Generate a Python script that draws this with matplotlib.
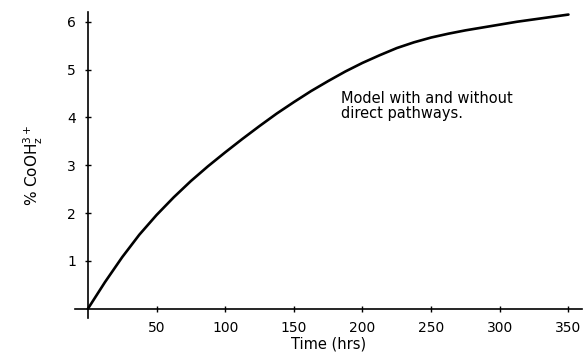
import matplotlib
matplotlib.use("Agg")
import matplotlib.pyplot as plt

plt.rcParams['font.family'] = ['DejaVu Sans']
plt.rcParams['mathtext.fontset'] = 'dejavusans'

# values
time_hrs = [0, 12.5, 25, 37.5, 50, 62.5, 75, 87.5, 100, 112.5, 125, 137.5, 150,
            162.5, 175, 187.5, 200, 212.5, 225, 237.5, 250, 262.5, 275, 287.5,
            300, 312.5, 325, 337.5, 350]
pct_cooh = [0, 0.56, 1.08, 1.55, 1.96, 2.33, 2.67, 2.98, 3.27, 3.55, 3.82, 4.08, 4.32,
            4.55, 4.76, 4.96, 5.14, 5.30, 5.45, 5.57, 5.67, 5.75, 5.82, 5.88,
            5.94, 6.00, 6.05, 6.10, 6.15]

x_ticks = [50, 100, 150, 200, 250, 300, 350]
y_ticks = [1, 2, 3, 4, 5, 6]

fig = plt.figure(figsize=(5.83, 3.58), dpi=100)
ax = fig.add_axes([0.1286, 0.112, 0.87, 0.854])

ax.plot(time_hrs, pct_cooh, color='black', lw=1.9, solid_capstyle='round')

ax.set_xlim(-9.4, 360)
ax.set_ylim(-0.19, 6.2)
ax.spines['left'].set_position(('data', 0))
ax.spines['bottom'].set_position(('data', 0))
ax.spines['top'].set_visible(False)
ax.spines['right'].set_visible(False)
ax.spines['left'].set_linewidth(1.2)
ax.spines['bottom'].set_linewidth(1.2)

ax.set_xticks(x_ticks)
ax.set_yticks(y_ticks)
ax.tick_params(direction='inout', length=5, width=1, labelsize=10, pad=6)

ax.set_xlabel('Time (hrs)', fontsize=10.5, labelpad=1)
ax.set_ylabel(r'% CoOH$\mathregular{_z^{3+}}$', fontsize=11, labelpad=16)

ax.text(184, 4.55, 'Model with and without\ndirect pathways.', fontsize=10.5,
        va='top', ha='left', linespacing=1.0)

fig.savefig('out.png', dpi=100)
